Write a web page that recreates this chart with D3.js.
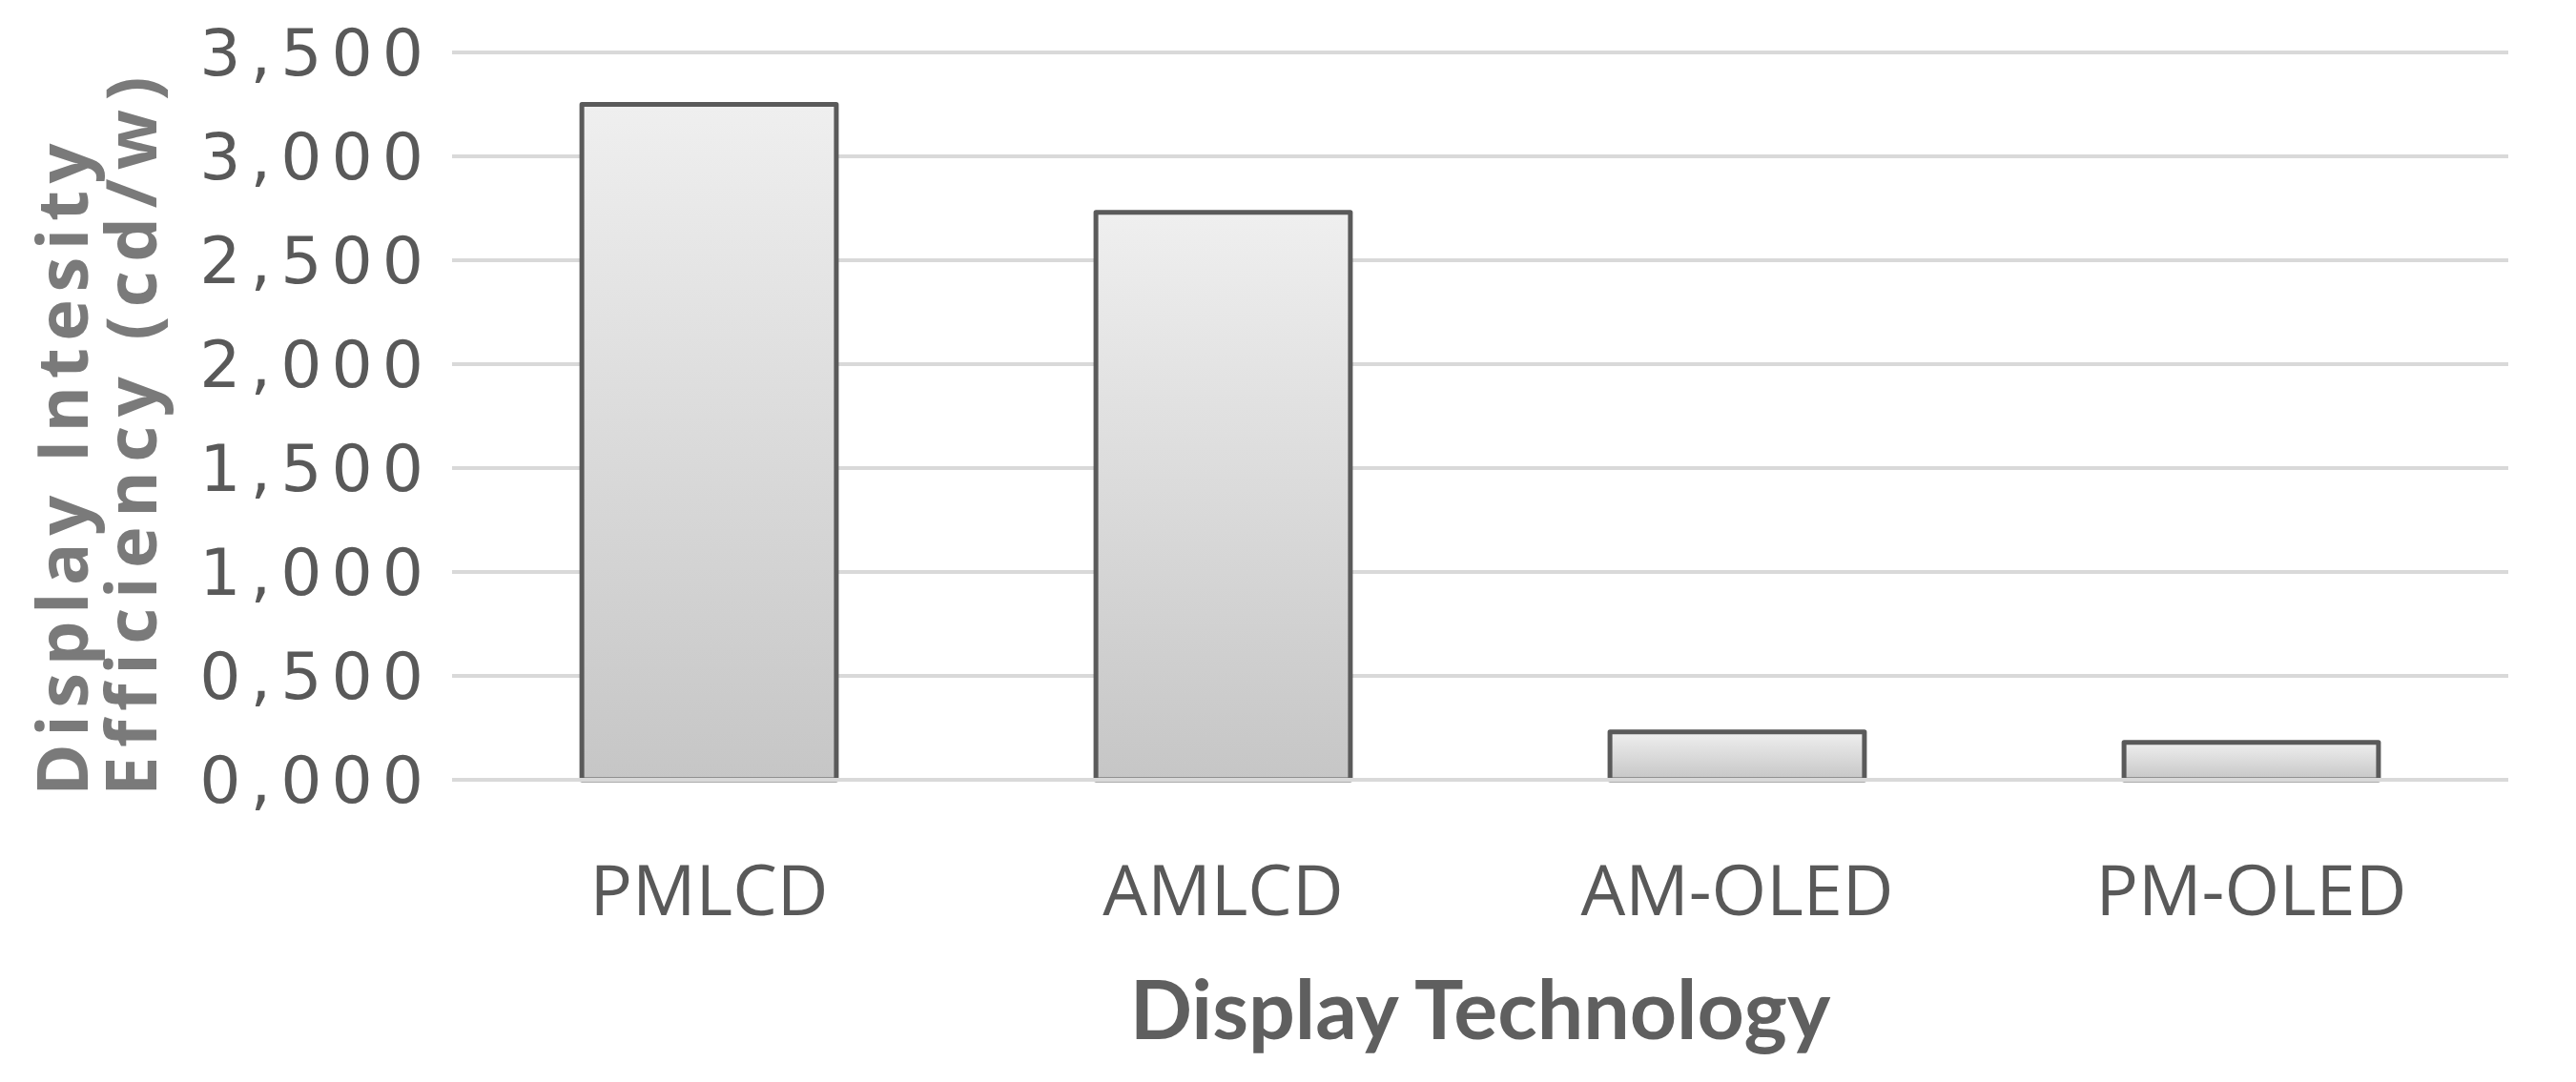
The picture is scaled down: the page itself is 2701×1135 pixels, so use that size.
<!DOCTYPE html>
<html lang="en">
<head>
  <meta charset="UTF-8">
  <title>Display Intensity Efficiency by Technology</title>
  <script src="https://d3js.org/d3.v7.min.js"></script>
  <style>
    body { margin: 0; background: #fff; }
    .grid line { stroke: #d9d9d9; stroke-width: 4px; }
    .tick-label { font-family: "DejaVu Sans", sans-serif; font-size: 68px; fill: #595959; letter-spacing: 10px; }
    .cat-label { font-family: "Open Sans", sans-serif; font-size: 74px; fill: #595959; }
    .x-title { font-family: "Lato", sans-serif; font-weight: bold; font-size: 86px; fill: #5f5f5f; }
    .y-title { font-family: "Open Sans", sans-serif; font-weight: bold; font-size: 74px; fill: #7a7a7a; }
    .bar { stroke: #5a5a5a; stroke-width: 5px; stroke-linejoin: round; fill: url(#barFill); }
  </style>
</head>
<body>
  <svg id="chart"></svg>
  <script>
    // values
    const categories = ["PMLCD", "AMLCD", "AM-OLED", "PM-OLED"];
    const values = [3250, 2730, 230, 180];
    const yTicks = [0, 500, 1000, 1500, 2000, 2500, 3000, 3500];
    const yTickLabels = ["0,000", "0,500", "1,000", "1,500", "2,000", "2,500", "3,000", "3,500"];

    const width = 2701, height = 1135;
    const margin = { top: 55, right: 71, bottom: 317, left: 474 };
    const plotW = width - margin.left - margin.right;
    const plotH = height - margin.top - margin.bottom;

    const svg = d3.select("#chart")
      .attr("width", width)
      .attr("height", height);

    // bar gradient, light at top to darker grey at bottom
    const grad = svg.append("defs").append("linearGradient")
      .attr("id", "barFill")
      .attr("x1", 0).attr("y1", 0).attr("x2", 0).attr("y2", 1);
    grad.append("stop").attr("offset", "0%").attr("stop-color", "#efefef");
    grad.append("stop").attr("offset", "100%").attr("stop-color", "#c6c6c6");

    const g = svg.append("g")
      .attr("transform", "translate(" + margin.left + "," + margin.top + ")");

    const x = d3.scaleBand()
      .domain(categories)
      .range([0, plotW])
      .paddingInner(0.505)
      .paddingOuter(0.2525);

    const y = d3.scaleLinear()
      .domain([0, 3500])
      .range([plotH, 0]);

    // gridlines
    g.append("g")
      .attr("class", "grid")
      .selectAll("line")
      .data(yTicks)
      .enter().append("line")
      .attr("x1", 0)
      .attr("x2", plotW)
      .attr("y1", d => y(d))
      .attr("y2", d => y(d));

    // y tick labels
    g.selectAll(".tick-label")
      .data(yTicks)
      .enter().append("text")
      .attr("class", "tick-label")
      .attr("x", -20)
      .attr("y", d => y(d))
      .attr("dy", "0.36em")
      .attr("text-anchor", "end")
      .text((d, i) => yTickLabels[i]);

    // bars: open at the bottom like the original
    const data = categories.map((c, i) => ({ cat: c, val: values[i] }));
    g.selectAll(".bar")
      .data(data)
      .enter().append("path")
      .attr("class", "bar")
      .attr("d", d => {
        const x0 = x(d.cat), x1 = x(d.cat) + x.bandwidth();
        return "M" + x0 + "," + y(0) + "V" + y(d.val) + "H" + x1 + "V" + y(0) + "Z";
      });

    // redraw the base line over the bar bottoms
    g.append("line")
      .attr("x1", 0).attr("x2", plotW)
      .attr("y1", y(0)).attr("y2", y(0))
      .attr("stroke", "#d9d9d9")
      .attr("stroke-width", 4);

    // category labels
    g.selectAll(".cat-label")
      .data(categories)
      .enter().append("text")
      .attr("class", "cat-label")
      .attr("x", d => x(d) + x.bandwidth() / 2)
      .attr("y", plotH + 142)
      .attr("text-anchor", "middle")
      .text(d => d);

    // axis titles
    svg.append("text")
      .attr("class", "x-title")
      .attr("x", 1552)
      .attr("y", 1090)
      .attr("text-anchor", "middle")
      .text("Display Technology");

    const yTitle = svg.append("text")
      .attr("class", "y-title")
      .attr("transform", "translate(92,835) rotate(-90)");
    yTitle.append("tspan").attr("x", 0).attr("y", 0)
      .style("letter-spacing", "7.5px").text("Display Intesity");
    yTitle.append("tspan").attr("x", 0).attr("y", 72)
      .style("letter-spacing", "9.5px").text("Efficiency (cd/w)");
  </script>
</body>
</html>
